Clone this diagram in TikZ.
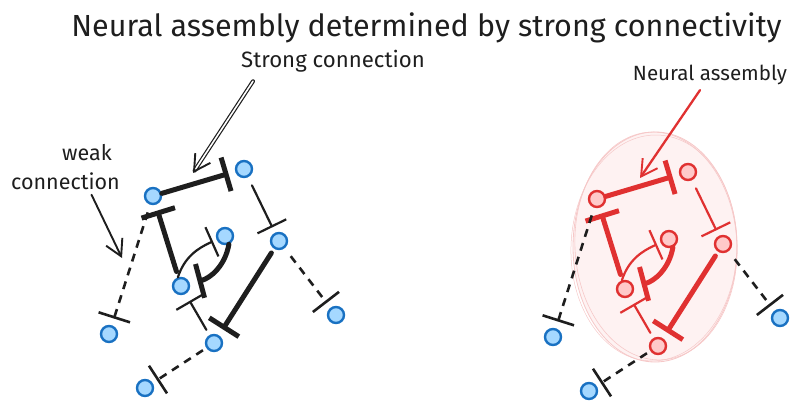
\documentclass[tikz,border=0pt]{standalone}
\usepackage{fontspec}
\setmainfont{Fira Sans}
\usetikzlibrary{arrows.meta,calc}
\definecolor{nblue}{HTML}{1971C2}
\definecolor{nbluefill}{HTML}{A5D8FF}
\definecolor{nred}{HTML}{E03131}
\definecolor{nredfill}{HTML}{FFC9C9}
\definecolor{ink}{HTML}{1E1E1E}
\definecolor{blobfill}{HTML}{FEF2F2}
\definecolor{blobline}{HTML}{F6C8C8}
\tikzset{
  neuron/.style={circle, draw=nblue, fill=nbluefill, line width=2.4pt, minimum size=16pt, inner sep=0pt},
  rneuron/.style={neuron, draw=nred, fill=nredfill},
  strongsyn/.style={line width=5pt, line cap=round, -{Bar[width=35pt,line width=5pt]}},
  weaksyn/.style={line width=2.2pt, line cap=round, -{Bar[width=32pt,line width=2.2pt]}},
  dashsyn/.style={draw=ink, line width=2.6pt, dash pattern=on 8pt off 6.5pt, -{Bar[width=33pt,line width=2.6pt]}},
  lbl/.style={inner sep=0pt, text=ink, font=\fontsize{21.5}{23}\selectfont},
  pointer/.style={draw=ink, line width=1.9pt, line cap=round, -{Straight Barb[length=16pt,width=18pt,line width=1.9pt]}}
}
\newcommand\drawnet[4]{%
  \begin{scope}[shift={(#2,#3)}]
    \node[#4] (#1A) at (153,-196) {};
    \node[#4] (#1B) at (244,-169) {};
    \node[#4] (#1C) at (225,-236) {};
    \node[#4] (#1D) at (279,-241) {};
    \node[#4] (#1E) at (181,-286) {};
    \node[#4] (#1F) at (214,-343) {};
    \node[neuron] (#1G) at (109,-334) {};
    \node[neuron] (#1H) at (336,-315) {};
    \node[neuron] (#1I) at (145,-388) {};
    \draw[strongsyn, linkcol, shorten >=7pt] (#1A) -- (#1B);
    \draw[strongsyn, linkcol, shorten <=6pt, shorten >=6pt] (#1E) -- (#1A);
    \draw[weaksyn, linkcol, shorten >=4pt] (#1E.110) to[out=72, in=204] (#1C);
    \draw[strongsyn, linkcol, shorten >=8pt] (#1C.-65) to[out=-100, in=15] (#1E);
    \draw[weaksyn, linkcol, shorten <=9pt, shorten >=6pt] (#1B) -- (#1D);
    \draw[strongsyn, linkcol, shorten <=5pt, shorten >=7pt] (#1D) -- (#1F);
    \draw[weaksyn, linkcol, shorten <=6pt, shorten >=8pt] (#1F) -- (#1E);
    \draw[dashsyn, shorten <=4pt, shorten >=5pt] (#1F) -- (#1I);
    \draw[dashsyn, shorten <=8pt, shorten >=7pt] (#1A) -- (#1G);
    \draw[dashsyn, shorten <=10pt, shorten >=6pt] (#1D) -- (#1H);
  \end{scope}}
\begin{document}
\begin{tikzpicture}[x=1pt, y=1pt]
  \useasboundingbox (0,0) rectangle (791,-403);
  % title and labels
  \node[lbl, font=\fontsize{30.5}{33}\selectfont] (title) at (426.5,-28) {Neural assembly determined by strong connectivity};
  \node[lbl, font=\fontsize{22.2}{24}\selectfont] (sc) at (333,-61) {Strong connection};
  \node[lbl] (wk) at (87,-153) {weak};
  \node[lbl] (wc) at (65.5,-181) {connection};
  \node[lbl, font=\fontsize{20.6}{22}\selectfont] (na) at (710,-75) {Neural assembly};
  % left network
  \colorlet{linkcol}{ink}
  \drawnet{L}{0}{0}{neuron}
  % assembly blob
  \fill[blobfill] (655,-247) ellipse [x radius=82, y radius=115];
  \draw[blobline, line width=0.8pt] (655,-247) ellipse [x radius=82, y radius=115];
  \draw[blobline, line width=0.6pt, rotate around={3:(655,-247)}] (656,-246) ellipse [x radius=81, y radius=114];
  \draw[blobline, line width=0.5pt, rotate around={-2:(655,-247)}] (654,-248) ellipse [x radius=83, y radius=113];
  % right network
  \colorlet{linkcol}{nred}
  \drawnet{R}{444}{-3}{rneuron}
  % pointers
  \coordinate (sctip) at (193,-173);
  \coordinate (wctip) at (122,-258);
  \coordinate (natip) at (640,-178);
  \draw[pointer, double=white, double distance=1.6pt, line width=1.2pt] ($(sc.south west)+(12,-9)$) -- (sctip);
  \draw[pointer] ($(wc.south)+(26,-5)$) -- (wctip);
  \draw[pointer, draw=nred, line width=2.3pt] ($(na.south)+(-10,-5)$) -- (natip);
\end{tikzpicture}
\end{document}
